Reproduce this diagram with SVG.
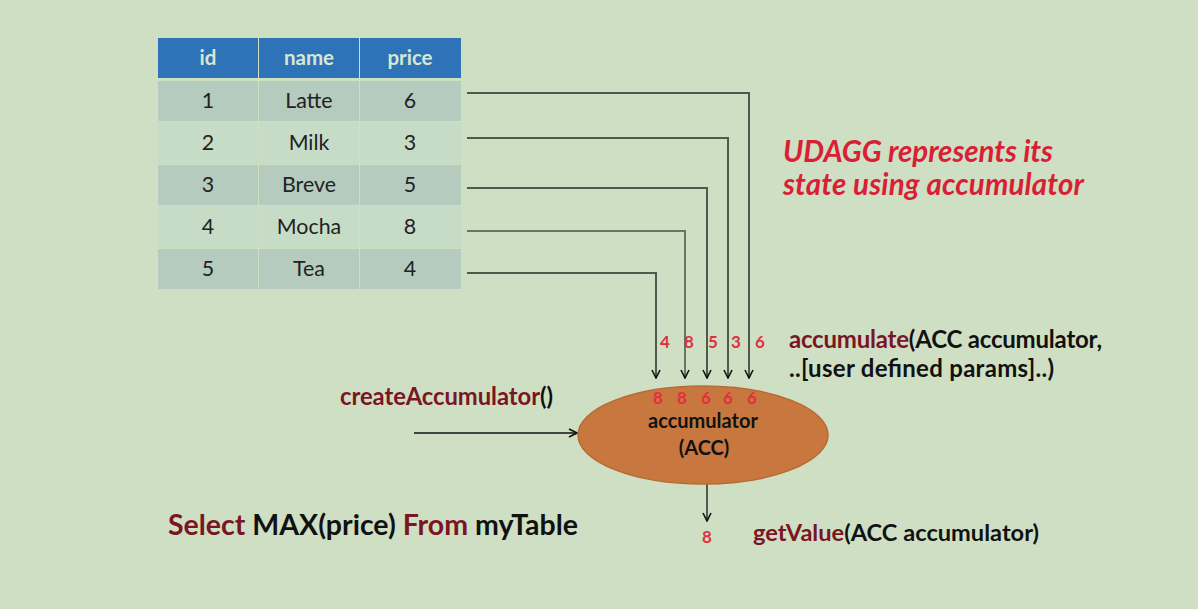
<svg xmlns="http://www.w3.org/2000/svg" width="1198" height="609" viewBox="0 0 1198 609">
<defs>
<marker id="ah" viewBox="0 0 10 10" refX="9" refY="5" markerWidth="10" markerHeight="10" markerUnits="userSpaceOnUse" orient="auto">
<path d="M1,1 L9,5 L1,9" fill="none" stroke="#111" stroke-width="1.6"/>
</marker>
<style>
text{font-family:Lato,"Liberation Sans",sans-serif}
.hd{fill:#2e72b8}
.hdt{fill:#d6e8d2;font-weight:bold;font-size:20.5px;text-anchor:middle}
.odd{fill:#b4cbbe}
.even{fill:#c6dcc6}
.ct{fill:#222;font-size:21.4px;text-anchor:middle}
.conn{fill:none;stroke:#4f5a4c;stroke-width:2}
.arr{fill:none;stroke:#111;stroke-width:1.3}
.rn{fill:#e03040;font-weight:bold;font-size:17px;text-anchor:middle}
.fn{fill:#7a1523;font-weight:bold}
.bk{fill:#111;font-weight:bold}
</style>
</defs>
<rect width="1198" height="609" fill="#cfdfc3"/>
<g id="table">
<rect class="hd" x="158" y="38" width="100" height="40"/>
<rect class="hd" x="259" y="38" width="100" height="40"/>
<rect class="hd" x="360" y="38" width="101" height="40"/>
<text class="hdt" x="208" y="65">id</text>
<text class="hdt" x="309" y="65">name</text>
<text class="hdt" x="410" y="65">price</text>
<rect class="odd" x="158" y="81" width="100" height="40"/><rect class="odd" x="259" y="81" width="100" height="40"/><rect class="odd" x="360" y="81" width="101" height="40"/>
<rect class="even" x="158" y="122" width="100" height="42"/><rect class="even" x="259" y="122" width="100" height="42"/><rect class="even" x="360" y="122" width="101" height="42"/>
<rect class="odd" x="158" y="165" width="100" height="40"/><rect class="odd" x="259" y="165" width="100" height="40"/><rect class="odd" x="360" y="165" width="101" height="40"/>
<rect class="even" x="158" y="206" width="100" height="42"/><rect class="even" x="259" y="206" width="100" height="42"/><rect class="even" x="360" y="206" width="101" height="42"/>
<rect class="odd" x="158" y="249" width="100" height="40"/><rect class="odd" x="259" y="249" width="100" height="40"/><rect class="odd" x="360" y="249" width="101" height="40"/>
<text class="ct" x="208" y="108">1</text><text class="ct" x="309" y="108">Latte</text><text class="ct" x="410" y="108">6</text>
<text class="ct" x="208" y="150">2</text><text class="ct" x="309" y="150">Milk</text><text class="ct" x="410" y="150">3</text>
<text class="ct" x="208" y="192">3</text><text class="ct" x="309" y="192">Breve</text><text class="ct" x="410" y="192">5</text>
<text class="ct" x="208" y="234">4</text><text class="ct" x="309" y="234">Mocha</text><text class="ct" x="410" y="234">8</text>
<text class="ct" x="208" y="276">5</text><text class="ct" x="309" y="276">Tea</text><text class="ct" x="410" y="276">4</text>
</g>
<g id="connectors">
<path class="conn" d="M467,93 H749 V378" marker-end="url(#ah)"/>
<path class="conn" d="M467,138 H728 V378" marker-end="url(#ah)"/>
<path class="conn" d="M467,188 H707 V378" marker-end="url(#ah)"/>
<path class="conn" d="M467,231 H685 V378" marker-end="url(#ah)" stroke-opacity="0.8"/>
<path class="conn" d="M467,273 H656 V378" marker-end="url(#ah)"/>
<path class="arr" d="M414,433 H577" marker-end="url(#ah)"/>
<path class="arr" d="M707,484 V521" marker-end="url(#ah)"/>
</g>
<g id="input-values">
<text class="rn" x="665" y="348">4</text>
<text class="rn" x="689" y="348">8</text>
<text class="rn" x="713" y="348">5</text>
<text class="rn" x="736" y="348">3</text>
<text class="rn" x="760" y="348">6</text>
</g>
<g id="accumulator">
<ellipse cx="703" cy="435" rx="125" ry="49" fill="#c8773e" stroke="#b86a33" stroke-width="1.5"/>
<text class="rn" x="658" y="404">8</text>
<text class="rn" x="682" y="404">8</text>
<text class="rn" x="706" y="404">6</text>
<text class="rn" x="728" y="404">6</text>
<text class="rn" x="752" y="404">6</text>
<text class="bk" x="703" y="428" font-size="20" text-anchor="middle">accumulator</text>
<text class="bk" x="704" y="455" font-size="20" text-anchor="middle">(ACC)</text>
</g>
<g id="createAccumulator">
<text x="340" y="405" font-size="23.8" textLength="213"><tspan class="fn">createAccumulator</tspan><tspan class="bk">()</tspan></text>
</g>
<g id="udagg-note">
<text x="783" y="162" font-size="29.5" font-weight="bold" font-style="italic" fill="#d91f35" textLength="270">UDAGG represents its</text>
<text x="783" y="195" font-size="29.5" font-weight="bold" font-style="italic" fill="#d91f35" textLength="301">state using accumulator</text>
</g>
<g id="accumulate">
<text x="789" y="348" font-size="24" textLength="313"><tspan class="fn">accumulate</tspan><tspan class="bk">(ACC accumulator,</tspan></text>
<text x="789" y="377" font-size="24" class="bk" textLength="265">..[user defined params]..)</text>
</g>
<g id="query">
<text x="168" y="535" font-size="28.5" textLength="410"><tspan class="fn">Select </tspan><tspan class="bk">MAX(price) </tspan><tspan class="fn">From </tspan><tspan class="bk">myTable</tspan></text>
</g>
<g id="getValue">
<text class="rn" x="707" y="543">8</text>
<text x="753" y="541" font-size="23.6" textLength="286"><tspan class="fn">getValue</tspan><tspan class="bk">(ACC accumulator)</tspan></text>
</g>
</svg>
